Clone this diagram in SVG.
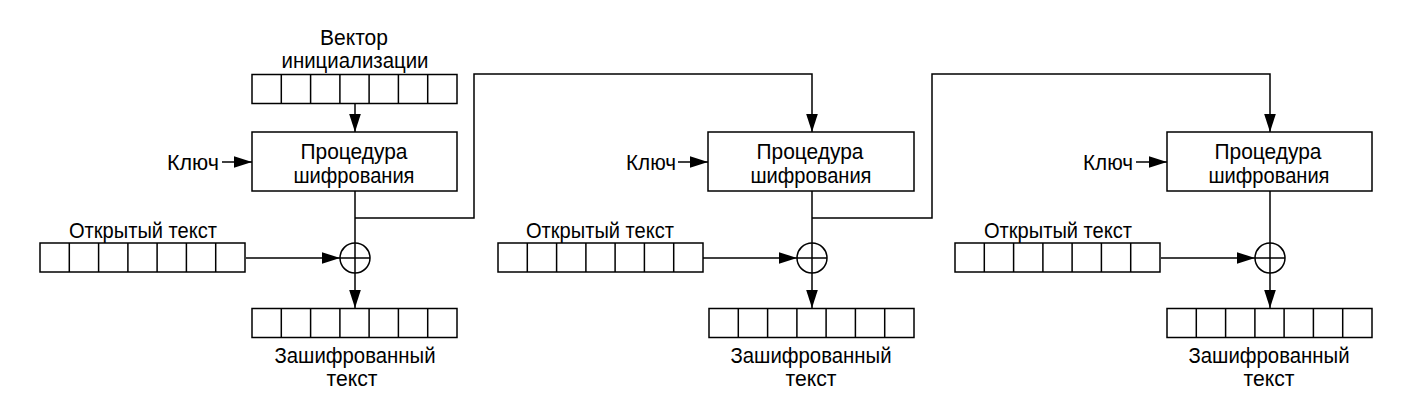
<svg xmlns="http://www.w3.org/2000/svg" width="1420" height="420" viewBox="0 0 1420 420">
<style>
.bx{fill:#fff;stroke:#000;stroke-width:1.5}
.ln{fill:none;stroke:#000;stroke-width:1.5}
.t{font-family:"Liberation Sans",Arial,sans-serif;font-size:22px;fill:#000;text-anchor:middle}
.tl{font-family:"Liberation Sans",Arial,sans-serif;font-size:22px;fill:#000;text-anchor:start}
</style>
<defs>
<marker id="ah" markerUnits="userSpaceOnUse" markerWidth="18" markerHeight="12" refX="17" refY="5.5" orient="auto" viewBox="0 0 17 11">
<path d="M0,0 L17,5.5 L0,11 z" fill="#000"/>
</marker>
<g id="reg">
<rect class="bx" x="0" y="0" width="205" height="29"/>
<path class="ln" d="M29.3,0v29M58.6,0v29M87.9,0v29M117.1,0v29M146.4,0v29M175.7,0v29"/>
</g>
</defs>
<rect width="1420" height="420" fill="#fff"/>

<g id="connectors">
<!-- stage 1 -->
<path class="ln" d="M355,103V132" marker-end="url(#ah)"/>
<path class="ln" d="M222,162H252" marker-end="url(#ah)"/>
<path class="ln" d="M355,191V243"/>
<path class="ln" d="M246,258H340" marker-end="url(#ah)"/>
<path class="ln" d="M355,273V308" marker-end="url(#ah)"/>
<path class="ln" d="M355,218H474V74H812V132" marker-end="url(#ah)"/>
<!-- stage 2 -->
<path class="ln" d="M678,162H708" marker-end="url(#ah)"/>
<path class="ln" d="M812,191V243"/>
<path class="ln" d="M703,258H797" marker-end="url(#ah)"/>
<path class="ln" d="M812,273V308" marker-end="url(#ah)"/>
<path class="ln" d="M812,218H932V74H1270V132" marker-end="url(#ah)"/>
<!-- stage 3 -->
<path class="ln" d="M1136,162H1167" marker-end="url(#ah)"/>
<path class="ln" d="M1270,191V243"/>
<path class="ln" d="M1161,258H1255" marker-end="url(#ah)"/>
<path class="ln" d="M1270,273V308" marker-end="url(#ah)"/>
</g>

<!-- Stage 1 -->
<g id="iv">
<text class="t" x="354" y="45" textLength="68" lengthAdjust="spacingAndGlyphs">Вектор</text>
<text class="t" x="355" y="68" textLength="147" lengthAdjust="spacingAndGlyphs">инициализации</text>
<use href="#reg" x="252" y="74.5"/>
</g>
<g id="key1"><text class="tl" x="167" y="170" textLength="52" lengthAdjust="spacingAndGlyphs">Ключ</text></g>
<g id="enc1">
<rect class="bx" x="252" y="132" width="205" height="59"/>
<text class="t" x="354" y="159" textLength="107" lengthAdjust="spacingAndGlyphs">Процедура</text>
<text class="t" x="354" y="183" textLength="121" lengthAdjust="spacingAndGlyphs">шифрования</text>
</g>
<g id="pt1">
<text class="t" x="143" y="238" textLength="148" lengthAdjust="spacingAndGlyphs">Открытый текст</text>
<use href="#reg" x="40" y="243"/>
</g>
<g id="xor1">
<circle class="ln" cx="355" cy="258" r="15"/>
<path class="ln" d="M340,258H370M355,243V273"/>
</g>
<g id="ct1">
<use href="#reg" x="252" y="308.5"/>
<text class="t" x="355" y="363" textLength="161" lengthAdjust="spacingAndGlyphs">Зашифрованный</text>
<text class="t" x="352" y="386" textLength="51" lengthAdjust="spacingAndGlyphs">текст</text>
</g>

<!-- Stage 2 -->
<g id="key2"><text class="tl" x="626" y="170" textLength="50" lengthAdjust="spacingAndGlyphs">Ключ</text></g>
<g id="enc2">
<rect class="bx" x="708" y="132" width="206" height="59"/>
<text class="t" x="810" y="159" textLength="107" lengthAdjust="spacingAndGlyphs">Процедура</text>
<text class="t" x="811" y="183" textLength="121" lengthAdjust="spacingAndGlyphs">шифрования</text>
</g>
<g id="pt2">
<text class="t" x="600" y="238" textLength="148" lengthAdjust="spacingAndGlyphs">Открытый текст</text>
<use href="#reg" x="498" y="243"/>
</g>
<g id="xor2">
<circle class="ln" cx="812" cy="258" r="15"/>
<path class="ln" d="M797,258H827M812,243V273"/>
</g>
<g id="ct2">
<use href="#reg" x="709" y="308.5"/>
<text class="t" x="811" y="363" textLength="161" lengthAdjust="spacingAndGlyphs">Зашифрованный</text>
<text class="t" x="811" y="386" textLength="51" lengthAdjust="spacingAndGlyphs">текст</text>
</g>

<!-- Stage 3 -->
<g id="key3"><text class="tl" x="1083" y="170" textLength="50" lengthAdjust="spacingAndGlyphs">Ключ</text></g>
<g id="enc3">
<rect class="bx" x="1167" y="132" width="205" height="59"/>
<text class="t" x="1268" y="159" textLength="107" lengthAdjust="spacingAndGlyphs">Процедура</text>
<text class="t" x="1269" y="183" textLength="121" lengthAdjust="spacingAndGlyphs">шифрования</text>
</g>
<g id="pt3">
<text class="t" x="1058" y="238" textLength="148" lengthAdjust="spacingAndGlyphs">Открытый текст</text>
<use href="#reg" x="955" y="243"/>
</g>
<g id="xor3">
<circle class="ln" cx="1270" cy="258" r="15"/>
<path class="ln" d="M1255,258H1285M1270,243V273"/>
</g>
<g id="ct3">
<use href="#reg" x="1167" y="308.5"/>
<text class="t" x="1269" y="363" textLength="161" lengthAdjust="spacingAndGlyphs">Зашифрованный</text>
<text class="t" x="1269" y="386" textLength="51" lengthAdjust="spacingAndGlyphs">текст</text>
</g>
</svg>
